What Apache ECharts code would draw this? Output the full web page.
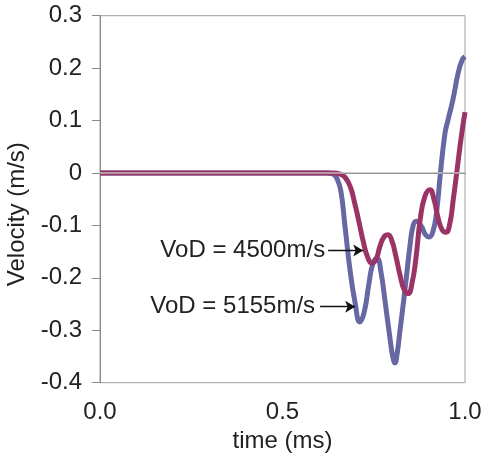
<!DOCTYPE html>
<html>
<head>
<meta charset="utf-8">
<script src="https://cdn.jsdelivr.net/npm/echarts@6/dist/echarts.min.js"></script>
<style>html,body{margin:0;padding:0;background:#fff;}#c{width:482px;height:460px;}</style>
</head>
<body>
<div id="c"></div>
<script>
// ---- data (time in ms, velocity in m/s) ----
var timeBlue = [0, 0.3, 0.62, 0.638, 0.65, 0.66, 0.671, 0.685, 0.699, 0.712, 0.724, 0.737, 0.748, 0.759, 0.77, 0.781, 0.795, 0.802, 0.808, 0.814, 0.822, 0.836, 0.849, 0.858, 0.866, 0.879, 0.892, 0.902, 0.912, 0.922, 0.932, 0.945, 0.953, 0.967, 0.981, 0.992, 1.0];
var velBlue  = [0, 0, 0, -0.002, -0.012, -0.035, -0.10, -0.185, -0.248, -0.284, -0.265, -0.21, -0.172, -0.163, -0.19, -0.245, -0.318, -0.35, -0.362, -0.345, -0.30, -0.22, -0.14, -0.10, -0.092, -0.10, -0.118, -0.122, -0.112, -0.075, -0.005, 0.075, 0.10, 0.14, 0.19, 0.215, 0.222];
var timeRed  = [0, 0.3, 0.64, 0.658, 0.671, 0.685, 0.697, 0.71, 0.721, 0.733, 0.745, 0.756, 0.767, 0.778, 0.789, 0.8, 0.811, 0.822, 0.833, 0.844, 0.855, 0.866, 0.877, 0.89, 0.904, 0.915, 0.926, 0.937, 0.948, 0.958, 0.968, 0.979, 0.99, 1.0];
var velRed   = [0, 0, 0, -0.002, -0.008, -0.025, -0.055, -0.095, -0.13, -0.16, -0.172, -0.165, -0.14, -0.122, -0.118, -0.13, -0.16, -0.195, -0.222, -0.23, -0.21, -0.16, -0.09, -0.045, -0.032, -0.05, -0.085, -0.108, -0.113, -0.098, -0.05, 0.01, 0.07, 0.116];
var seriesNames = ['VoD = 5155m/s', 'VoD = 4500m/s'];
var yTicks = [-0.4, -0.3, -0.2, -0.1, 0, 0.1, 0.2, 0.3];
var xTicks = [0.0, 0.5, 1.0];
// annotation arrows: [startTime, endTime, velocity]
var arrowRed  = [0.625, 0.721, -0.148];
var arrowBlue = [0.603, 0.699, -0.255];

function pairs(t, v) { return t.map(function (x, i) { return [x, v[i]]; }); }

var FONT = '"Liberation Sans", Arial, sans-serif';
var chart = echarts.init(document.getElementById('c'), null, {renderer: 'canvas'});
chart.setOption({
  animation: false,
  backgroundColor: '#fff',
  grid: {left: 100, right: 17, top: 15.7, bottom: 77.3, show: true, borderColor: '#a0a0a0', borderWidth: 1,
    containLabel: false, outerBoundsMode: 'none'},
  xAxis: {
    type: 'value', min: xTicks[0], max: xTicks[xTicks.length - 1], interval: 0.5,
    name: 'time (ms)', nameLocation: 'middle', nameGap: 42,
    nameTextStyle: {fontFamily: FONT, fontSize: 24, color: '#222'},
    axisLine: {show: true, lineStyle: {color: '#222', width: 1}},
    axisTick: {show: false},
    splitLine: {show: false},
    axisLabel: {fontFamily: FONT, fontSize: 24, color: '#222', margin: 18,
      formatter: function (v) { return v.toFixed(1); }}
  },
  yAxis: {
    type: 'value', min: yTicks[0], max: yTicks[yTicks.length - 1], interval: 0.1,
    name: 'Velocity (m/s)', nameLocation: 'middle', nameGap: 67,
    nameTextStyle: {fontFamily: FONT, fontSize: 24, color: '#222', padding: [0, 0, 0, -30]},
    axisLine: {show: true, lineStyle: {color: '#8a8a8a', width: 1}},
    axisTick: {show: true, length: 8, lineStyle: {color: '#8a8a8a'}},
    splitLine: {show: false},
    axisLabel: {fontFamily: FONT, fontSize: 24, color: '#222', margin: 18,
      formatter: function (v) { var r = Math.round(v * 10) / 10; return r === 0 ? '0' : r.toFixed(1); }}
  },
  series: [
    {
      name: seriesNames[0], type: 'line', data: pairs(timeBlue, velBlue),
      smooth: 0.5, showSymbol: false, z: 2,
      lineStyle: {color: '#6767a3', width: 5},
      markLine: {
        silent: true, symbol: ['none', 'arrow'], symbolSize: [9, 10], z: 5,
        lineStyle: {color: '#111', width: 1.3, type: 'solid'},
        label: {show: true, position: 'start', distance: 5, fontFamily: FONT, fontSize: 24, color: '#222',
          formatter: seriesNames[0]},
        data: [
          [{coord: [arrowBlue[0], arrowBlue[2]]}, {coord: [arrowBlue[1], arrowBlue[2]]}]
        ]
      }
    },
    {
      name: seriesNames[1], type: 'line', data: pairs(timeRed, velRed),
      smooth: 0.5, showSymbol: false, z: 3,
      lineStyle: {color: '#9b3366', width: 5},
      markLine: {
        silent: true, symbol: ['none', 'arrow'], symbolSize: [9, 10], z: 5,
        lineStyle: {color: '#111', width: 1.3, type: 'solid'},
        label: {show: true, position: 'start', distance: 3, fontFamily: FONT, fontSize: 24, color: '#222',
          formatter: seriesNames[1]},
        data: [
          [{coord: [arrowRed[0], arrowRed[2]]}, {coord: [arrowRed[1], arrowRed[2]]}]
        ]
      }
    },
    {
      name: 'zero', type: 'line', data: [], z: 1,
      markLine: {
        silent: true, symbol: 'none', label: {show: false},
        lineStyle: {color: '#bdbdbd', width: 1.5, type: 'solid'},
        data: [{yAxis: 0}]
      }
    }
  ]
});
</script>
</body>
</html>
